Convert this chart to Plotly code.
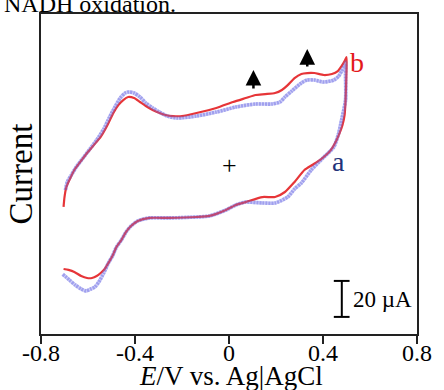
import plotly.graph_objects as go

# Potential (V vs Ag|AgCl) and current (µA)
# curve b (red line)
E_b = [-0.704, -0.700, -0.692, -0.675, -0.658, -0.633, -0.604, -0.575, -0.546, -0.517,
       -0.492, -0.471, -0.450, -0.429, -0.404, -0.379, -0.354, -0.325, -0.296, -0.271,
       -0.238, -0.200, -0.138, -0.054, 0.017, 0.071, 0.113, 0.154, 0.196, 0.225,
       0.250, 0.279, 0.308, 0.333, 0.363, 0.404, 0.438, 0.463, 0.479, 0.492, 0.500,
       0.500, 0.496, 0.492, 0.483, 0.471, 0.458, 0.433, 0.392, 0.354, 0.321,
       0.279, 0.238, 0.196, 0.142, 0.071, 0.029, -0.013, -0.083, -0.138, -0.254,
       -0.338, -0.388, -0.417, -0.438, -0.458, -0.479, -0.496, -0.513, -0.529, -0.546,
       -0.563, -0.583, -0.604, -0.629, -0.658, -0.683, -0.704]
I_b = [-23.3, -17.8, -12.2, -7.2, -2.8, 1.7, 6.7, 11.1, 15.6, 22.2,
       28.9, 33.3, 36.1, 37.8, 37.2, 35.0, 32.8, 30.6, 28.9, 27.8,
       27.2, 27.2, 28.9, 31.7, 35.0, 37.2, 38.9, 39.4, 40.0, 41.7,
       44.4, 48.3, 50.6, 51.1, 51.1, 50.0, 50.6, 52.2, 55.0, 57.8, 60.0,
       52.8, 36.1, 27.8, 22.2, 17.8, 13.9, 8.3, 3.3, 0.0, -2.8,
       -9.4, -15.0, -17.8, -17.8, -20.6, -22.2, -25.0, -28.3, -28.9, -29.4,
       -29.4, -31.1, -33.9, -37.2, -41.7, -45.6, -50.6, -54.4, -57.8, -60.0,
       -61.7, -62.8, -62.8, -61.7, -59.4, -58.3, -57.8]

# curve a (blue open circles)
E_a = [-0.696, -0.688, -0.671, -0.650, -0.621, -0.592, -0.563, -0.533, -0.508, -0.483,
       -0.463, -0.442, -0.425, -0.404, -0.379, -0.354, -0.325, -0.296, -0.263, -0.221,
       -0.138, -0.054, 0.029, 0.113, 0.183, 0.217, 0.238, 0.267, 0.308, 0.333,
       0.363, 0.404, 0.446, 0.467, 0.479, 0.492, 0.496,
       0.496, 0.496, 0.479, 0.467, 0.446, 0.404, 0.350, 0.308, 0.279, 0.250,
       0.196, 0.142, 0.071, 0.029, -0.013, -0.083, -0.138, -0.254, -0.338, -0.388,
       -0.417, -0.438, -0.458, -0.479, -0.496, -0.513, -0.533, -0.554, -0.571, -0.588,
       -0.608, -0.629, -0.654, -0.679, -0.708]
I_a = [-13.9, -9.4, -5.6, -1.1, 3.9, 8.9, 13.9, 20.0, 26.7, 32.8,
       37.2, 40.0, 40.6, 40.0, 37.8, 34.4, 31.7, 29.4, 27.2, 26.1,
       27.2, 29.4, 32.2, 33.9, 33.9, 35.0, 37.8, 41.1, 45.6, 47.2,
       47.2, 46.1, 47.2, 49.4, 52.2, 55.6, 57.2,
       50.0, 36.1, 25.0, 17.8, 10.0, 4.4, -2.8, -10.0, -13.3, -17.8,
       -21.1, -21.1, -20.6, -22.2, -25.0, -28.3, -28.9, -29.4, -29.4, -31.1,
       -33.9, -37.2, -41.7, -45.6, -50.6, -54.4, -60.0, -65.0, -67.8, -68.9,
       -70.0, -68.9, -66.7, -63.9, -60.6]

x_ticks = [-0.8, -0.4, 0, 0.4, 0.8]
x_tick_labels = ["-0.8", "-0.4", "0", "0.4", "0.8"]

FONT = "Liberation Serif"

fig = go.Figure()
fig.add_trace(go.Scatter(x=E_a, y=I_a, mode="lines", line=dict(color="rgba(120,120,232,0.55)", width=3.6, shape="spline", smoothing=0.6, dash="2px,1px"),
                         showlegend=False, hoverinfo="skip"))
fig.add_trace(go.Scatter(x=E_b, y=I_b, mode="lines", line=dict(color="rgba(227,25,28,0.88)", width=2.2, shape="spline", smoothing=0.6),
                         showlegend=False, hoverinfo="skip"))
fig.add_trace(go.Scatter(x=E_a, y=I_a, mode="lines", line=dict(color="rgba(120,120,232,0.35)", width=3.6, shape="spline", smoothing=0.6),
                         showlegend=False, hoverinfo="skip"))

anns = []
anns.append(dict(xref="paper", yref="paper", x=-0.104, y=1.032, xanchor="left", yanchor="middle",
                 text="NADH oxidation.", showarrow=False, font=dict(family=FONT, size=24, color="black")))
anns.append(dict(xref="paper", yref="paper", x=-0.052, y=0.5, xanchor="center", yanchor="middle",
                 text="Current", textangle=-90, showarrow=False, font=dict(family=FONT, size=33, color="black")))
anns.append(dict(xref="paper", yref="paper", x=0.506, y=-0.132, xanchor="center", yanchor="middle",
                 text="<i>E</i>/V vs. Ag|AgCl", showarrow=False, font=dict(family=FONT, size=27, color="black")))
anns.append(dict(x=0.467, y=1.7, text="a", showarrow=False, font=dict(family=FONT, size=28, color="#22327a")))
anns.append(dict(x=0.546, y=57.2, text="b", showarrow=False, font=dict(family=FONT, size=28, color="#e3191c")))
anns.append(dict(x=0.004, y=-0.5, text="+", showarrow=False, font=dict(family=FONT, size=26, color="black")))
for (xa, ytip, ybase) in [(0.104, 52.8, 41.7), (0.333, 64.4, 53.9)]:
    anns.append(dict(x=xa, y=ytip, ax=xa, ay=ybase, axref="x", ayref="y", text="", showarrow=True,
                     arrowhead=2, arrowsize=1.25, arrowwidth=2.5, arrowcolor="black"))
anns.append(dict(x=0.521, y=-75, xanchor="left", yanchor="middle", text="20 µA", showarrow=False,
                 font=dict(family=FONT, size=23, color="black")))

shapes = [
    dict(type="line", x0=0.480, x1=0.480, y0=-84.4, y1=-64.4, line=dict(color="black", width=2)),
    dict(type="line", x0=0.446, x1=0.513, y0=-84.4, y1=-84.4, line=dict(color="black", width=2)),
    dict(type="line", x0=0.446, x1=0.513, y0=-64.4, y1=-64.4, line=dict(color="black", width=2)),
]

fig.update_layout(
    width=444, height=390, margin=dict(l=41, r=18, t=14, b=56),
    paper_bgcolor="white", plot_bgcolor="white",
    annotations=anns, shapes=shapes,
    xaxis=dict(range=[-0.8, 0.8], tickvals=x_ticks, ticktext=x_tick_labels, ticks="outside", ticklen=8,
               tickwidth=2, tickcolor="#222", showline=True, linewidth=2, linecolor="#222", mirror=True,
               showgrid=False, zeroline=False, ticklabelstandoff=-12,
               tickfont=dict(family=FONT, size=24, color="black")),
    yaxis=dict(range=[-93.9, 83.9], showticklabels=False, ticks="", showline=True, linewidth=2,
               linecolor="#222", mirror=True, showgrid=False, zeroline=False),
)
fig.write_html("out.html")
